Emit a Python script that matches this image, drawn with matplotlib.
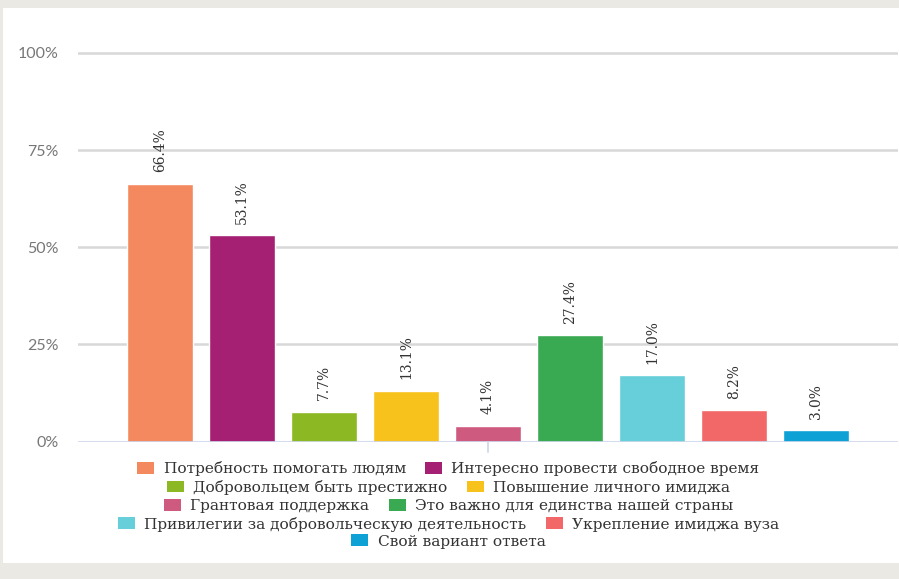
import matplotlib.pyplot as plt
from matplotlib.patches import Rectangle, Patch

# данные
categories = [
    "Потребность помогать людям",
    "Интересно провести свободное время",
    "Добровольцем быть престижно",
    "Повышение личного имиджа",
    "Грантовая поддержка",
    "Это важно для единства нашей страны",
    "Привилегии за добровольческую деятельность",
    "Укрепление имиджа вуза",
    "Свой вариант ответа",
]
values = [66.4, 53.1, 7.7, 13.1, 4.1, 27.4, 17.0, 8.2, 3.0]
colors = ["#F4895F", "#A51F72", "#8CB823", "#F8C21C", "#CF5A7F",
          "#3AAA52", "#66CFD9", "#F26868", "#0DA1D6"]
y_ticks = [0, 25, 50, 75, 100]
y_labels = ["0%", "25%", "50%", "75%", "100%"]
legend_rows = [[0, 1], [2, 3], [4, 5], [6, 7], [8]]

W, H = 899, 579
fig = plt.figure(figsize=(W / 100, H / 100), dpi=100)
fig.patch.set_facecolor("#EAE9E4")
fig.patches.append(Rectangle((3 / W, (H - 563) / H), (W - 3) / W, (563 - 8) / H,
                             transform=fig.transFigure, facecolor="white",
                             edgecolor="none", zorder=-5))

# оси: 0% -> y=441.5, 100% -> y=53
px_per = (441.5 - 53) / 100
ymax = 102
top_px = 441.5 - ymax * px_per
ax = fig.add_axes([78 / W, (H - 441.5) / H, (898 - 78) / W, (441.5 - top_px) / H])
ax.set_facecolor("none")

x = list(range(len(values)))
bars = ax.bar(x, values, width=0.8, color=colors, edgecolor="white",
              linewidth=1, zorder=3)
ax.set_xlim(-1, 9)
ax.set_ylim(0, ymax)

for b, v in zip(bars, values):
    ax.annotate(f"{v:.1f}%", (b.get_x() + b.get_width() / 2, v),
                xytext=(0, 8), textcoords="offset points", rotation=90,
                ha="center", va="bottom", fontsize=10, color="#333333",
                family="DejaVu Serif")

ax.set_yticks(y_ticks)
ax.set_yticklabels(y_labels, family="Lato", fontsize=11.5, color="#777777")
ax.tick_params(axis="y", length=0, pad=14)
ax.set_xticks([])
for s in ax.spines.values():
    s.set_visible(False)
for t in y_ticks[1:]:
    ax.axhline(t, color="#D8D8D8", linewidth=1.8, zorder=1)
ax.axhline(0, color="#CCD6EB", linewidth=1.2, zorder=4)
# отметка категории под осью
ax.plot([4, 4], [0, -10 / px_per], color="#CCD6EB", linewidth=1.2,
        clip_on=False, zorder=4)

# легенда построчно
row_y = [469, 487.5, 506, 524, 541.5]
for row, yy in zip(legend_rows, row_y):
    handles = [Patch(facecolor=colors[i], edgecolor="none") for i in row]
    labels = [categories[i] for i in row]
    leg = fig.legend(handles, labels, loc="center",
                     bbox_to_anchor=(448.5 / W, 1 - yy / H), ncol=len(row),
                     frameon=False, prop={"family": "DejaVu Serif", "size": 11.1},
                     handlelength=1.1, handleheight=0.78, handletextpad=0.6,
                     columnspacing=1.25, borderpad=0, borderaxespad=0)
    for t in leg.get_texts():
        t.set_color("#333333")

fig.savefig("out.png", dpi=100, facecolor=fig.get_facecolor())
